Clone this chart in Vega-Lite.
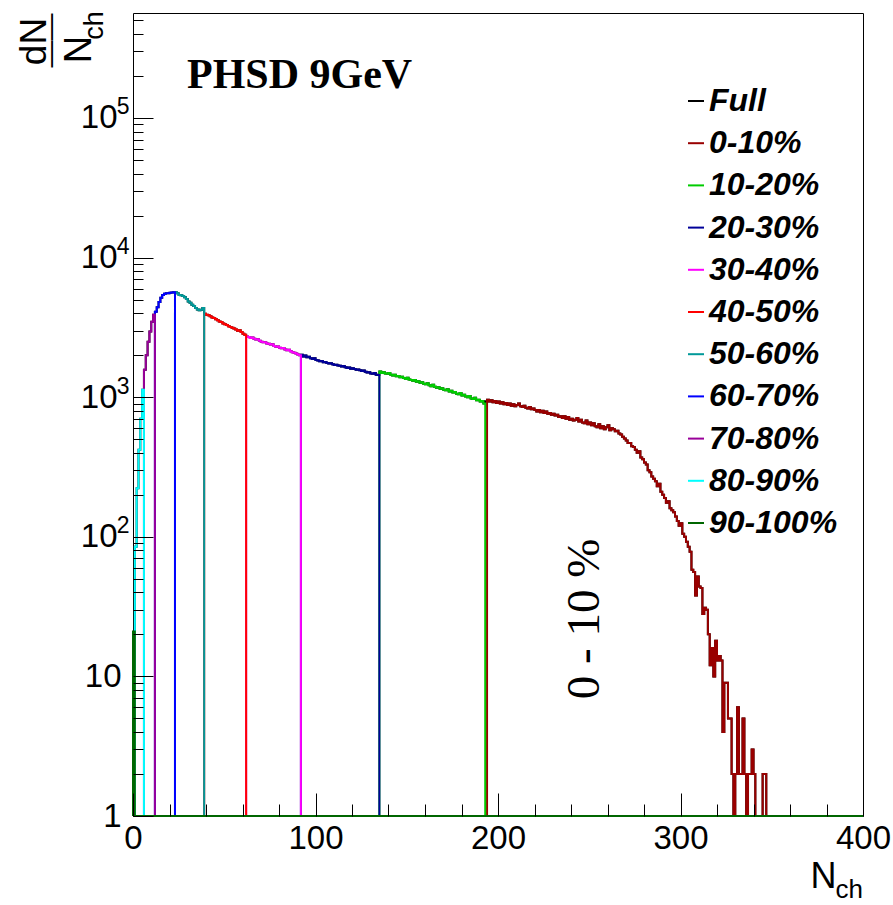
{
  "$schema": "https://vega.github.io/schema/vega-lite/v6.json",
  "width": 730,
  "height": 803,
  "autosize": {"type": "none"},
  "padding": {"left": 133, "top": 13, "right": 30, "bottom": 89},
  "background": "white",
  "config": {
    "view": {"stroke": "black", "strokeWidth": 1},
    "axis": {"grid": false, "domain": false, "labelFont": "Liberation Sans", "titleFont": "Liberation Sans", "labelColor": "black", "titleColor": "black", "titleFontWeight": "normal", "tickColor": "black", "tickWidth": 1, "labelFlush": false, "labelOverlap": false},
    "legend": {
      "orient": "none", "legendX": 547, "legendY": 72, "title": null,
      "symbolType": "stroke", "symbolSize": 256, "symbolStrokeWidth": 2,
      "labelFont": "Liberation Sans", "labelFontSize": 32, "labelFontWeight": "bold",
      "labelFontStyle": "italic", "labelColor": "black", "labelOffset": -3,
      "rowPadding": 10.2, "padding": 0, "labelLimit": 0
    }
  },
  "datasets": {
    "bins": [
      {"c":"Full","n":193,"v":935},
      {"c":"0-10%","n":194,"v":1,"e":true},
      {"c":"0-10%","n":194,"v":960},{"c":"0-10%","n":195,"v":930},{"c":"0-10%","n":196,"v":950},{"c":"0-10%","n":197,"v":920},{"c":"0-10%","n":198,"v":940},{"c":"0-10%","n":199,"v":910},{"c":"0-10%","n":200,"v":930},{"c":"0-10%","n":201,"v":900},{"c":"0-10%","n":202,"v":920},{"c":"0-10%","n":203,"v":890},{"c":"0-10%","n":204,"v":910},{"c":"0-10%","n":205,"v":880},{"c":"0-10%","n":206,"v":900},{"c":"0-10%","n":207,"v":870},{"c":"0-10%","n":208,"v":890},{"c":"0-10%","n":209,"v":860},{"c":"0-10%","n":210,"v":880},{"c":"0-10%","n":211,"v":900},{"c":"0-10%","n":212,"v":860},{"c":"0-10%","n":213,"v":850},{"c":"0-10%","n":214,"v":870},{"c":"0-10%","n":215,"v":840},{"c":"0-10%","n":216,"v":830},{"c":"0-10%","n":217,"v":850},{"c":"0-10%","n":218,"v":820},{"c":"0-10%","n":219,"v":830},{"c":"0-10%","n":220,"v":810},{"c":"0-10%","n":221,"v":790},{"c":"0-10%","n":222,"v":810},{"c":"0-10%","n":223,"v":780},{"c":"0-10%","n":224,"v":800},{"c":"0-10%","n":225,"v":770},{"c":"0-10%","n":226,"v":790},{"c":"0-10%","n":227,"v":760},{"c":"0-10%","n":228,"v":770},{"c":"0-10%","n":229,"v":750},{"c":"0-10%","n":230,"v":760},{"c":"0-10%","n":231,"v":740},{"c":"0-10%","n":232,"v":750},{"c":"0-10%","n":233,"v":720},{"c":"0-10%","n":234,"v":730},{"c":"0-10%","n":235,"v":710},{"c":"0-10%","n":236,"v":730},{"c":"0-10%","n":237,"v":700},{"c":"0-10%","n":238,"v":720},{"c":"0-10%","n":239,"v":690},{"c":"0-10%","n":240,"v":700},{"c":"0-10%","n":241,"v":680},{"c":"0-10%","n":242,"v":690},{"c":"0-10%","n":243,"v":710},{"c":"0-10%","n":244,"v":670},{"c":"0-10%","n":245,"v":690},{"c":"0-10%","n":246,"v":660},{"c":"0-10%","n":247,"v":650},{"c":"0-10%","n":248,"v":680},{"c":"0-10%","n":249,"v":640},{"c":"0-10%","n":250,"v":660},{"c":"0-10%","n":251,"v":630},{"c":"0-10%","n":252,"v":650},{"c":"0-10%","n":253,"v":620},{"c":"0-10%","n":254,"v":610},{"c":"0-10%","n":255,"v":640},{"c":"0-10%","n":256,"v":600},{"c":"0-10%","n":257,"v":620},{"c":"0-10%","n":258,"v":590},{"c":"0-10%","n":259,"v":610},{"c":"0-10%","n":260,"v":630},{"c":"0-10%","n":261,"v":580},{"c":"0-10%","n":262,"v":600},{"c":"0-10%","n":263,"v":590},{"c":"0-10%","n":264,"v":570},{"c":"0-10%","n":265,"v":575},{"c":"0-10%","n":266,"v":550},{"c":"0-10%","n":267,"v":540},{"c":"0-10%","n":268,"v":520},{"c":"0-10%","n":269,"v":505},{"c":"0-10%","n":270,"v":490},{"c":"0-10%","n":271,"v":470},{"c":"0-10%","n":272,"v":470},{"c":"0-10%","n":273,"v":445},{"c":"0-10%","n":274,"v":440},{"c":"0-10%","n":275,"v":420},{"c":"0-10%","n":276,"v":400},{"c":"0-10%","n":277,"v":410},{"c":"0-10%","n":278,"v":370},{"c":"0-10%","n":279,"v":360},{"c":"0-10%","n":280,"v":340},{"c":"0-10%","n":281,"v":330},{"c":"0-10%","n":282,"v":300},{"c":"0-10%","n":283,"v":290},{"c":"0-10%","n":284,"v":270},{"c":"0-10%","n":285,"v":260},{"c":"0-10%","n":286,"v":250},{"c":"0-10%","n":287,"v":230},{"c":"0-10%","n":288,"v":240},{"c":"0-10%","n":289,"v":210},{"c":"0-10%","n":290,"v":200},{"c":"0-10%","n":291,"v":190},{"c":"0-10%","n":292,"v":175},{"c":"0-10%","n":293,"v":180},{"c":"0-10%","n":294,"v":160},{"c":"0-10%","n":295,"v":155},{"c":"0-10%","n":296,"v":150},{"c":"0-10%","n":297,"v":140},{"c":"0-10%","n":298,"v":130},{"c":"0-10%","n":299,"v":120},{"c":"0-10%","n":300,"v":125},{"c":"0-10%","n":301,"v":105},{"c":"0-10%","n":302,"v":100},{"c":"0-10%","n":303,"v":92},{"c":"0-10%","n":304,"v":85},{"c":"0-10%","n":305,"v":78},{"c":"0-10%","n":306,"v":58},{"c":"0-10%","n":307,"v":56},{"c":"0-10%","n":308,"v":38},{"c":"0-10%","n":309,"v":52},{"c":"0-10%","n":310,"v":44},{"c":"0-10%","n":311,"v":43},{"c":"0-10%","n":312,"v":28},{"c":"0-10%","n":313,"v":31},{"c":"0-10%","n":314,"v":30},{"c":"0-10%","n":315,"v":20},{"c":"0-10%","n":316,"v":12},{"c":"0-10%","n":317,"v":16},{"c":"0-10%","n":318,"v":10},{"c":"0-10%","n":319,"v":18},{"c":"0-10%","n":320,"v":13},{"c":"0-10%","n":321,"v":14},{"c":"0-10%","n":322,"v":13},{"c":"0-10%","n":323,"v":4},{"c":"0-10%","n":324,"v":9},{"c":"0-10%","n":325,"v":9},{"c":"0-10%","n":326,"v":5},{"c":"0-10%","n":327,"v":5},{"c":"0-10%","n":328,"v":2},{"c":"0-10%","n":329,"v":1},{"c":"0-10%","n":330,"v":2},{"c":"0-10%","n":331,"v":6},{"c":"0-10%","n":332,"v":2},{"c":"0-10%","n":333,"v":2},{"c":"0-10%","n":334,"v":5},{"c":"0-10%","n":335,"v":2},{"c":"0-10%","n":336,"v":1},{"c":"0-10%","n":337,"v":2},{"c":"0-10%","n":338,"v":2},{"c":"0-10%","n":339,"v":3},{"c":"0-10%","n":340,"v":2},{"c":"0-10%","n":341,"v":1},{"c":"0-10%","n":342,"v":1},{"c":"0-10%","n":343,"v":1},{"c":"0-10%","n":344,"v":1},{"c":"0-10%","n":345,"v":2},{"c":"0-10%","n":346,"v":2},{"c":"0-10%","n":347,"v":1},
      {"c":"0-10%","n":348,"v":1,"e":true},
      {"c":"10-20%","n":135,"v":1,"e":true},
      {"c":"10-20%","n":135,"v":1530},{"c":"10-20%","n":136,"v":1490},{"c":"10-20%","n":137,"v":1510},{"c":"10-20%","n":138,"v":1480},{"c":"10-20%","n":139,"v":1470},{"c":"10-20%","n":140,"v":1490},{"c":"10-20%","n":141,"v":1450},{"c":"10-20%","n":142,"v":1430},{"c":"10-20%","n":143,"v":1450},{"c":"10-20%","n":144,"v":1410},{"c":"10-20%","n":145,"v":1420},{"c":"10-20%","n":146,"v":1390},{"c":"10-20%","n":147,"v":1400},{"c":"10-20%","n":148,"v":1370},{"c":"10-20%","n":149,"v":1350},{"c":"10-20%","n":150,"v":1380},{"c":"10-20%","n":151,"v":1340},{"c":"10-20%","n":152,"v":1330},{"c":"10-20%","n":153,"v":1310},{"c":"10-20%","n":154,"v":1330},{"c":"10-20%","n":155,"v":1290},{"c":"10-20%","n":156,"v":1300},{"c":"10-20%","n":157,"v":1270},{"c":"10-20%","n":158,"v":1280},{"c":"10-20%","n":159,"v":1250},{"c":"10-20%","n":160,"v":1240},{"c":"10-20%","n":161,"v":1260},{"c":"10-20%","n":162,"v":1220},{"c":"10-20%","n":163,"v":1200},{"c":"10-20%","n":164,"v":1230},{"c":"10-20%","n":165,"v":1190},{"c":"10-20%","n":166,"v":1170},{"c":"10-20%","n":167,"v":1180},{"c":"10-20%","n":168,"v":1150},{"c":"10-20%","n":169,"v":1160},{"c":"10-20%","n":170,"v":1130},{"c":"10-20%","n":171,"v":1120},{"c":"10-20%","n":172,"v":1140},{"c":"10-20%","n":173,"v":1100},{"c":"10-20%","n":174,"v":1110},{"c":"10-20%","n":175,"v":1080},{"c":"10-20%","n":176,"v":1090},{"c":"10-20%","n":177,"v":1060},{"c":"10-20%","n":178,"v":1050},{"c":"10-20%","n":179,"v":1070},{"c":"10-20%","n":180,"v":1030},{"c":"10-20%","n":181,"v":1040},{"c":"10-20%","n":182,"v":1010},{"c":"10-20%","n":183,"v":1000},{"c":"10-20%","n":184,"v":1020},{"c":"10-20%","n":185,"v":980},{"c":"10-20%","n":186,"v":970},{"c":"10-20%","n":187,"v":990},{"c":"10-20%","n":188,"v":950},{"c":"10-20%","n":189,"v":960},{"c":"10-20%","n":190,"v":930},{"c":"10-20%","n":191,"v":940},{"c":"10-20%","n":192,"v":900},
      {"c":"10-20%","n":193,"v":1,"e":true},
      {"c":"20-30%","n":92,"v":1,"e":true},
      {"c":"20-30%","n":92,"v":2010},{"c":"20-30%","n":93,"v":1960},{"c":"20-30%","n":94,"v":1990},{"c":"20-30%","n":95,"v":1930},{"c":"20-30%","n":96,"v":1950},{"c":"20-30%","n":97,"v":1900},{"c":"20-30%","n":98,"v":1880},{"c":"20-30%","n":99,"v":1900},{"c":"20-30%","n":100,"v":1850},{"c":"20-30%","n":101,"v":1830},{"c":"20-30%","n":102,"v":1810},{"c":"20-30%","n":103,"v":1820},{"c":"20-30%","n":104,"v":1780},{"c":"20-30%","n":105,"v":1790},{"c":"20-30%","n":106,"v":1760},{"c":"20-30%","n":107,"v":1740},{"c":"20-30%","n":108,"v":1750},{"c":"20-30%","n":109,"v":1720},{"c":"20-30%","n":110,"v":1700},{"c":"20-30%","n":111,"v":1710},{"c":"20-30%","n":112,"v":1690},{"c":"20-30%","n":113,"v":1680},{"c":"20-30%","n":114,"v":1660},{"c":"20-30%","n":115,"v":1670},{"c":"20-30%","n":116,"v":1640},{"c":"20-30%","n":117,"v":1620},{"c":"20-30%","n":118,"v":1630},{"c":"20-30%","n":119,"v":1600},{"c":"20-30%","n":120,"v":1610},{"c":"20-30%","n":121,"v":1590},{"c":"20-30%","n":122,"v":1570},{"c":"20-30%","n":123,"v":1580},{"c":"20-30%","n":124,"v":1560},{"c":"20-30%","n":125,"v":1540},{"c":"20-30%","n":126,"v":1550},{"c":"20-30%","n":127,"v":1520},{"c":"20-30%","n":128,"v":1500},{"c":"20-30%","n":129,"v":1510},{"c":"20-30%","n":130,"v":1480},{"c":"20-30%","n":131,"v":1470},{"c":"20-30%","n":132,"v":1490},{"c":"20-30%","n":133,"v":1450},{"c":"20-30%","n":134,"v":1440},
      {"c":"20-30%","n":135,"v":1,"e":true},
      {"c":"30-40%","n":62,"v":1,"e":true},
      {"c":"30-40%","n":62,"v":2720},{"c":"30-40%","n":63,"v":2700},{"c":"30-40%","n":64,"v":2660},{"c":"30-40%","n":65,"v":2680},{"c":"30-40%","n":66,"v":2620},{"c":"30-40%","n":67,"v":2590},{"c":"30-40%","n":68,"v":2600},{"c":"30-40%","n":69,"v":2540},{"c":"30-40%","n":70,"v":2500},{"c":"30-40%","n":71,"v":2480},{"c":"30-40%","n":72,"v":2470},{"c":"30-40%","n":73,"v":2420},{"c":"30-40%","n":74,"v":2410},{"c":"30-40%","n":75,"v":2380},{"c":"30-40%","n":76,"v":2390},{"c":"30-40%","n":77,"v":2330},{"c":"30-40%","n":78,"v":2300},{"c":"30-40%","n":79,"v":2310},{"c":"30-40%","n":80,"v":2260},{"c":"30-40%","n":81,"v":2240},{"c":"30-40%","n":82,"v":2250},{"c":"30-40%","n":83,"v":2200},{"c":"30-40%","n":84,"v":2170},{"c":"30-40%","n":85,"v":2190},{"c":"30-40%","n":86,"v":2130},{"c":"30-40%","n":87,"v":2100},{"c":"30-40%","n":88,"v":2080},{"c":"30-40%","n":89,"v":2060},{"c":"30-40%","n":90,"v":2020},{"c":"30-40%","n":91,"v":2000},
      {"c":"30-40%","n":92,"v":1,"e":true},
      {"c":"40-50%","n":39,"v":1,"e":true},
      {"c":"40-50%","n":39,"v":3960},{"c":"40-50%","n":40,"v":3900},{"c":"40-50%","n":41,"v":3870},{"c":"40-50%","n":42,"v":3800},{"c":"40-50%","n":43,"v":3720},{"c":"40-50%","n":44,"v":3690},{"c":"40-50%","n":45,"v":3610},{"c":"40-50%","n":46,"v":3560},{"c":"40-50%","n":47,"v":3490},{"c":"40-50%","n":48,"v":3450},{"c":"40-50%","n":49,"v":3370},{"c":"40-50%","n":50,"v":3330},{"c":"40-50%","n":51,"v":3290},{"c":"40-50%","n":52,"v":3220},{"c":"40-50%","n":53,"v":3180},{"c":"40-50%","n":54,"v":3140},{"c":"40-50%","n":55,"v":3110},{"c":"40-50%","n":56,"v":3050},{"c":"40-50%","n":57,"v":2990},{"c":"40-50%","n":58,"v":3020},{"c":"40-50%","n":59,"v":2930},{"c":"40-50%","n":60,"v":2850},{"c":"40-50%","n":61,"v":2800},
      {"c":"40-50%","n":62,"v":1,"e":true},
      {"c":"50-60%","n":23,"v":1,"e":true},
      {"c":"50-60%","n":23,"v":5640},{"c":"50-60%","n":24,"v":5550},{"c":"50-60%","n":25,"v":5400},{"c":"50-60%","n":26,"v":5380},{"c":"50-60%","n":27,"v":5300},{"c":"50-60%","n":28,"v":5200},{"c":"50-60%","n":29,"v":5050},{"c":"50-60%","n":30,"v":4850},{"c":"50-60%","n":31,"v":4750},{"c":"50-60%","n":32,"v":4600},{"c":"50-60%","n":33,"v":4500},{"c":"50-60%","n":34,"v":4350},{"c":"50-60%","n":35,"v":4250},{"c":"50-60%","n":36,"v":4200},{"c":"50-60%","n":37,"v":4230},{"c":"50-60%","n":38,"v":4350},
      {"c":"50-60%","n":39,"v":1,"e":true},
      {"c":"60-70%","n":12,"v":1,"e":true},
      {"c":"60-70%","n":12,"v":4100},{"c":"60-70%","n":13,"v":4400},{"c":"60-70%","n":14,"v":4800},{"c":"60-70%","n":15,"v":5150},{"c":"60-70%","n":16,"v":5400},{"c":"60-70%","n":17,"v":5500},{"c":"60-70%","n":18,"v":5550},{"c":"60-70%","n":19,"v":5560},{"c":"60-70%","n":20,"v":5600},{"c":"60-70%","n":21,"v":5620},{"c":"60-70%","n":22,"v":5650},
      {"c":"60-70%","n":23,"v":1,"e":true},
      {"c":"70-80%","n":6,"v":1,"e":true},
      {"c":"70-80%","n":6,"v":1570},{"c":"70-80%","n":7,"v":2000},{"c":"70-80%","n":8,"v":2500},{"c":"70-80%","n":9,"v":2950},{"c":"70-80%","n":10,"v":3470},{"c":"70-80%","n":11,"v":3900},
      {"c":"70-80%","n":12,"v":1,"e":true},
      {"c":"80-90%","n":1,"v":1,"e":true},
      {"c":"80-90%","n":1,"v":85},{"c":"80-90%","n":2,"v":223},{"c":"80-90%","n":3,"v":420},{"c":"80-90%","n":4,"v":700},{"c":"80-90%","n":5,"v":1130},
      {"c":"80-90%","n":6,"v":1,"e":true},
      {"c":"90-100%","n":0,"v":1,"e":true},
      {"c":"90-100%","n":0,"v":21},
      {"c":"90-100%","n":1,"v":1,"e":true},
      {"c":"90-100%","n":400,"v":1,"e":true}
    ]
  },
  "layer": [
    {
      "data": {"name": "bins"},
      "transform": [{"filter": "!datum.e"}],
      "mark": {"type": "line", "interpolate": "step-after", "strokeWidth": 2},
      "encoding": {
        "x": {
          "field": "n", "type": "quantitative",
          "scale": {"domain": [0, 400], "nice": false, "zero": false},
          "axis": {
            "orient": "bottom", "values": [0, 100, 200, 300, 400], "ticks": false,
            "labelFontSize": 33, "labelPadding": 6,
            "title": "N", "titleFontSize": 36, "titleX": 677, "titleY": 71,
            "titleAlign": "left", "titleBaseline": "alphabetic", "titleAngle": 0
          }
        },
        "y": {
          "field": "v", "type": "quantitative",
          "scale": {"type": "log", "domain": [1, 565000], "nice": false},
          "axis": {
            "orient": "left", "values": [1, 10, 100, 1000, 10000, 100000], "ticks": false,
            "labelExpr": "datum.value == 1 ? '1' : '10'",
            "labelFontSize": 33,
            "labelPadding": {"condition": {"test": "datum.value >= 100", "value": 16}, "value": 12},
            "title": "dN", "titleFontSize": 37, "titleAngle": 270, "titleAlign": "center",
            "titleBaseline": "alphabetic", "titleX": -88, "titleY": 28
          }
        },
        "color": {
          "datum": "Full",
          "scale": {
            "domain": ["Full", "0-10%", "10-20%", "20-30%", "30-40%", "40-50%", "50-60%", "60-70%", "70-80%", "80-90%", "90-100%"],
            "range": ["#000000", "#990000", "#00cc00", "#000099", "#ff00ff", "#ff0000", "#009999", "#0000ff", "#990099", "#00ffff", "#006600"]
          },
          "legend": {"title": null}
        }
      }
    },
    {
      "data": {"name": "bins"},
      "transform": [{"filter": "datum.c != 'Full'"}],
      "mark": {"type": "line", "interpolate": "step-after", "strokeWidth": 2},
      "encoding": {
        "x": {
          "field": "n", "type": "quantitative",
          "axis": {
            "orient": "bottom", "labels": false, "zindex": 1,
            "values": [0, 20, 40, 60, 80, 100, 120, 140, 160, 180, 200, 220, 240, 260, 280, 300, 320, 340, 360, 380, 400],
            "tickSize": {"condition": {"test": "datum.value % 100 == 0", "value": -23}, "value": -12},
            "title": "ch", "titleFontSize": 26, "titleX": 702, "titleY": 81,
            "titleAlign": "left", "titleBaseline": "alphabetic", "titleAngle": 0
          }
        },
        "y": {
          "field": "v", "type": "quantitative",
          "axis": {
            "orient": "left", "labels": false, "zindex": 1,
            "values": [1, 2, 3, 4, 5, 6, 7, 8, 9, 10, 20, 30, 40, 50, 60, 70, 80, 90, 100, 200, 300, 400, 500, 600, 700, 800, 900, 1000, 2000, 3000, 4000, 5000, 6000, 7000, 8000, 9000, 10000, 20000, 30000, 40000, 50000, 60000, 70000, 80000, 90000, 100000, 200000, 300000, 400000, 500000],
            "tickSize": {"condition": {"test": "abs(log(datum.value) / LN10 - round(log(datum.value) / LN10)) < 0.001", "value": -20}, "value": -10},
            "title": "N", "titleFontSize": 38, "titleAngle": 270, "titleAlign": "center",
            "titleBaseline": "alphabetic", "titleX": -43, "titleY": 36
          }
        },
        "color": {"field": "c", "type": "nominal", "legend": {"title": null}},
        "order": {"value": null}
      }
    },
    {
      "data": {"values": [{"label": "PHSD 9GeV"}]},
      "mark": {"type": "text", "font": "Liberation Serif", "fontSize": 42, "fontWeight": "bold", "align": "left", "baseline": "alphabetic", "color": "black"},
      "encoding": {
        "x": {"datum": 29.6, "type": "quantitative", "axis": null},
        "y": {
          "datum": 164000, "type": "quantitative",
          "axis": {
            "orient": "left", "values": [100, 1000, 10000, 100000], "ticks": false,
            "labelExpr": "'' + round(log(datum.value) / LN10)",
            "labelFontSize": 23, "labelPadding": 4, "labelOffset": -11,
            "title": "ch", "titleFontSize": 27, "titleAngle": 270, "titleAlign": "center",
            "titleBaseline": "alphabetic", "titleX": -31, "titleY": 12
          }
        },
        "text": {"field": "label"}
      }
    },
    {
      "data": {"values": [{"label": "0 - 10 %"}]},
      "mark": {"type": "text", "font": "Liberation Serif", "fontSize": 47, "angle": 270, "align": "center", "baseline": "alphabetic", "color": "black"},
      "encoding": {
        "x": {"datum": 255.2, "type": "quantitative", "axis": null},
        "y": {
          "datum": 25.8, "type": "quantitative",
          "axis": {
            "orient": "left", "labels": false, "ticks": false,
            "title": "——", "titleFontSize": 27, "titleAngle": 270, "titleAlign": "center",
            "titleBaseline": "alphabetic", "titleX": -75, "titleY": 27
          }
        },
        "text": {"field": "label"}
      }
    }
  ],
  "resolve": {"axis": {"x": "independent", "y": "independent"}}
}
